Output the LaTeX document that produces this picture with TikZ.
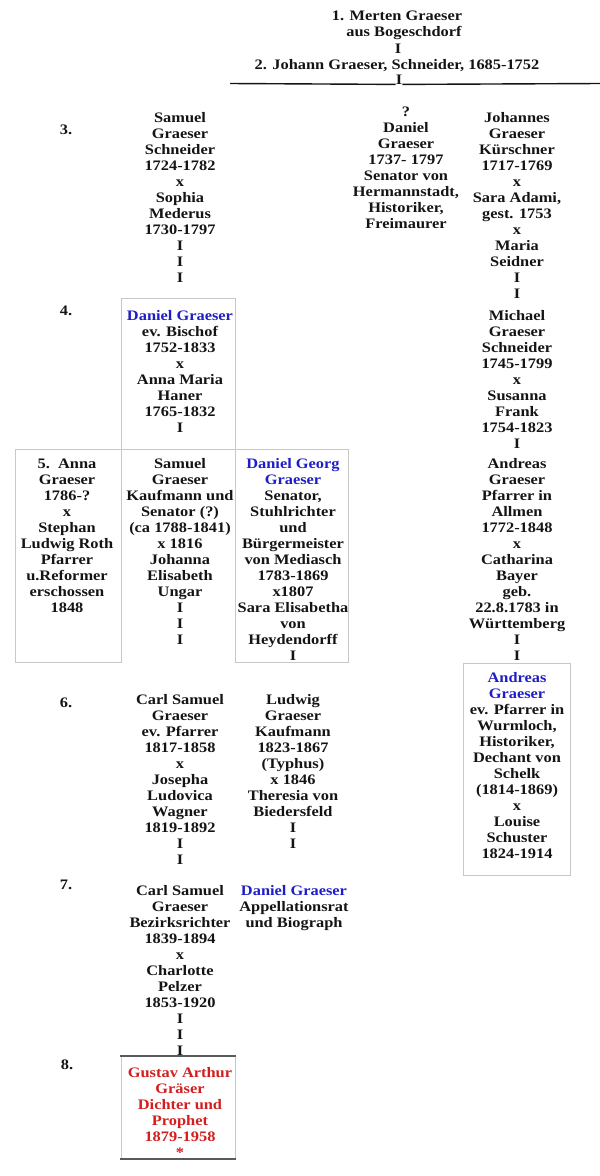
\documentclass[tikz,border=0pt]{standalone}
\usepackage{fontspec}
\newfontfamily\gfam{Liberation Serif}[FakeStretch=1.13]
\definecolor{gblue}{RGB}{30,30,200}
\definecolor{gred}{RGB}{210,30,30}
\definecolor{boxgray}{RGB}{200,200,200}
\definecolor{darkline}{RGB}{90,90,90}
\definecolor{ink}{RGB}{20,20,20}
\newcommand\gf{\gfam\bfseries\fontsize{14.5}{16}\selectfont}
\newcommand\fl{\rule{0pt}{12pt}}
\newcommand\bl[1]{\textcolor{gblue}{#1}}
\tikzset{
  txt/.style={font=\gf, align=center, inner sep=0pt, anchor=north, text=ink},
  cellbox/.style={draw=boxgray, line width=1pt},
  strongrule/.style={draw=darkline, line width=1.6pt},
  underrule/.style={draw=ink, line width=1.4pt}
}
\begin{document}
\begin{tikzpicture}[x=1pt,y=-1pt]
\useasboundingbox (0,0) rectangle (600,1176);
% boxes
\draw[cellbox] (121,298) rectangle (235,449);
\draw[cellbox] (15,449) rectangle (121,662);
\draw[cellbox] (235,449) rectangle (348,662);
\draw[cellbox] (463,663) rectangle (570,875);
\draw[cellbox] (121,1056) -- (121,1159);
\draw[cellbox] (235,1056) -- (235,1159);
\draw[strongrule] (120,1056) -- (236,1056);
\draw[strongrule] (120,1159) -- (236,1159);
% top block
\node[txt] (t1) at (397,8) {\fl 1. Merten Graeser};
\node[txt] (t2) at (404,24.5) {\fl aus Bogeschdorf};
\node[txt] (tI) at (398,41) {\fl I};
\node[txt] (t3) at (397,57.5) {\fl 2. Johann Graeser, Schneider, 1685-1752};
\node[txt] (tI2) at (399,72) {\fl I};
\coordinate (uL) at (230,83.5);
\coordinate (uR) at (600,83.5);
\draw[underrule] (uL) -- (tI2.south west);
\draw[underrule] (tI2.south east) -- (uR);
% generation labels
\node[txt] (g3) at (66,122) {\fl 3.};
\node[txt] (g4) at (66,303) {\fl 4.};
\node[txt] (g6) at (66,695) {\fl 6.};
\node[txt] (g7) at (66,877) {\fl 7.};
\node[txt] (g8) at (67,1057) {\fl 8.};
% generation 3
\node[txt] (c3a) at (180,110) {\fl Samuel\\Graeser\\Schneider\\1724-1782\\x\\Sophia\\Mederus\\1730-1797\\I\\I\\I};
\node[txt] (c3b) at (406,104) {\fl ?\\Daniel\\Graeser\\1737- 1797\\Senator von\\Hermannstadt,\\Historiker,\\Freimaurer};
\node[txt] (c3c) at (517,110) {\fl Johannes\\Graeser\\Kürschner\\1717-1769\\x\\Sara Adami,\\gest. 1753\\x\\Maria\\Seidner\\I\\I};
% generation 4
\node[txt] (c4a) at (180,308) {\fl \bl{Daniel Graeser}\\ev. Bischof\\1752-1833\\x\\Anna Maria\\Haner\\1765-1832\\I};
\node[txt] (c4c) at (517,308) {\fl Michael\\Graeser\\Schneider\\1745-1799\\x\\Susanna\\Frank\\1754-1823\\I};
% generation 5
\node[txt] (c5a) at (67,456) {\fl 5.\ \ Anna\\Graeser\\1786-?\\x\\Stephan\\Ludwig Roth\\Pfarrer\\u.Reformer\\erschossen\\1848};
\node[txt] (c5b) at (180,456) {\fl Samuel\\Graeser\\Kaufmann und\\Senator (?)\\(ca 1788-1841)\\x 1816\\Johanna\\Elisabeth\\Ungar\\I\\I\\I};
\node[txt] (c5c) at (293,456) {\fl \bl{Daniel Georg}\\\bl{Graeser}\\Senator,\\Stuhlrichter\\und\\Bürgermeister\\von Mediasch\\1783-1869\\x1807\\Sara Elisabetha\\von\\Heydendorff\\I};
\node[txt] (c5d) at (517,456) {\fl Andreas\\Graeser\\Pfarrer in\\Allmen\\1772-1848\\x\\Catharina\\Bayer\\geb.\\22.8.1783 in\\Württemberg\\I\\I};
% generation 6
\node[txt] (c6a) at (180,692) {\fl Carl Samuel\\Graeser\\ev. Pfarrer\\1817-1858\\x\\Josepha\\Ludovica\\Wagner\\1819-1892\\I\\I};
\node[txt] (c6b) at (293,692) {\fl Ludwig\\Graeser\\Kaufmann\\1823-1867\\(Typhus)\\x 1846\\Theresia von\\Biedersfeld\\I\\I};
\node[txt] (c6c) at (517,670) {\fl \bl{Andreas}\\\bl{Graeser}\\ev. Pfarrer in\\Wurmloch,\\Historiker,\\Dechant von\\Schelk\\(1814-1869)\\x\\Louise\\Schuster\\1824-1914};
% generation 7
\node[txt] (c7a) at (180,883) {\fl Carl Samuel\\Graeser\\Bezirksrichter\\1839-1894\\x\\Charlotte\\Pelzer\\1853-1920\\I\\I\\I};
\node[txt] (c7b) at (294,883) {\fl \bl{Daniel Graeser}\\Appellationsrat\\und Biograph};
% generation 8
\node[txt, text=gred] (c8a) at (180,1065) {\fl Gustav Arthur\\Gräser\\Dichter und\\Prophet\\1879-1958\\*};
\end{tikzpicture}
\end{document}
